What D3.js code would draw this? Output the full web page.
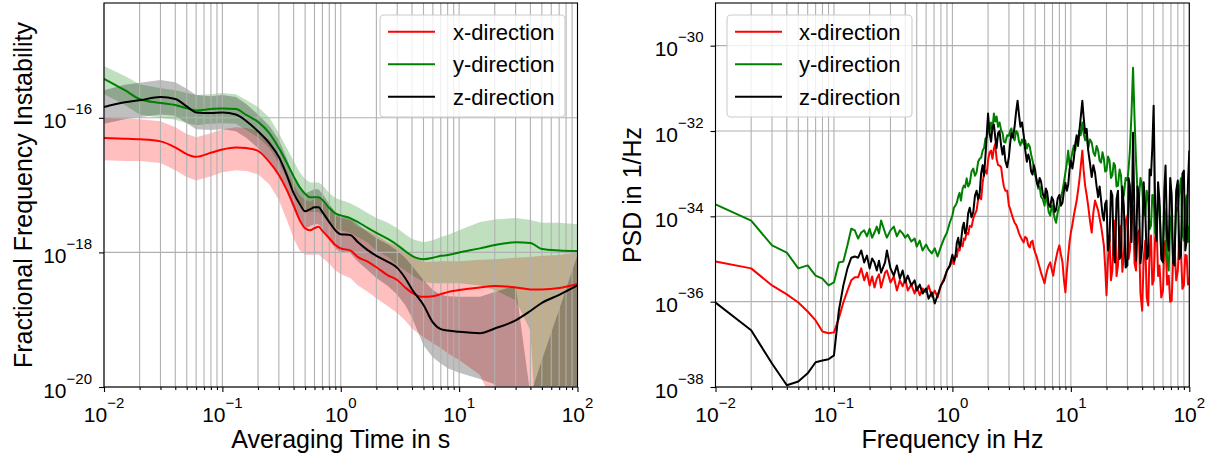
<!DOCTYPE html>
<html>
<head>
<meta charset="utf-8">
<script src="https://cdn.jsdelivr.net/npm/d3@7"></script>
<style>
  body { margin: 0; background: #fff; }
  text { font-family: "Liberation Sans", Arial, sans-serif; fill: #000; }
</style>
</head>
<body>
<script>
// ---- left panel: instability vs averaging time (values are log10) ----
var tau = [0.01,0.015,0.02,0.03,0.04,0.05,0.06,0.08,0.1,0.13,0.16,0.2,0.25,0.3,0.35,0.4,0.45,0.5,0.55,0.6,
  0.65,0.7,0.8,0.9,1,1.2,1.4,1.7,2,2.5,3,3.5,4,5,6,7,8,10,15,20,30,40,50,70,100];

var adevX = [-16.30,-16.31,-16.32,-16.35,-16.44,-16.54,-16.58,-16.52,-16.47,-16.44,
  -16.45,-16.49,-16.66,-16.85,-17.07,-17.30,-17.52,-17.64,-17.67,-17.64,
  -17.62,-17.68,-17.79,-17.89,-17.94,-17.97,-18.07,-18.14,-18.22,-18.34,
  -18.41,-18.52,-18.60,-18.66,-18.65,-18.62,-18.59,-18.56,-18.52,-18.50,
  -18.52,-18.55,-18.55,-18.53,-18.47];
var adevXUp = [-16.00,-16.01,-16.02,-16.05,-16.14,-16.24,-16.29,-16.23,-16.17,-16.14,
  -16.15,-16.20,-16.33,-16.54,-16.78,-16.99,-17.15,-17.22,-17.24,-17.21,
  -17.19,-17.25,-17.36,-17.45,-17.49,-17.52,-17.62,-17.68,-17.74,-17.85,
  -17.91,-18.00,-18.05,-18.14,-18.14,-18.13,-18.13,-18.13,-18.11,-18.10,
  -18.08,-18.07,-18.05,-18.04,-18.00];
var adevXLow = [-16.63,-16.64,-16.64,-16.67,-16.78,-16.88,-16.93,-16.87,-16.81,-16.78,
  -16.79,-16.84,-16.99,-17.22,-17.52,-17.79,-17.97,-18.03,-18.04,-18.03,
  -18.03,-18.08,-18.17,-18.27,-18.32,-18.38,-18.49,-18.59,-18.68,-18.80,
  -18.90,-19.01,-19.13,-19.26,-19.35,-19.42,-19.50,-19.60,-19.82,-20.3,
  -22,-22,-22,-22,-22];

var adevY = [-15.42,-15.59,-15.72,-15.78,-15.81,-15.86,-15.89,-15.87,-15.86,-15.87,
  -15.96,-16.06,-16.23,-16.45,-16.67,-16.87,-17.03,-17.13,-17.18,-17.18,
  -17.18,-17.22,-17.34,-17.42,-17.45,-17.49,-17.55,-17.64,-17.71,-17.80,
  -17.89,-17.98,-18.05,-18.10,-18.08,-18.05,-18.04,-18.00,-17.94,-17.89,
  -17.85,-17.86,-17.95,-17.97,-17.98];
var adevYUp = [-15.23,-15.38,-15.50,-15.56,-15.59,-15.63,-15.66,-15.65,-15.63,-15.65,
  -15.74,-15.84,-16.00,-16.23,-16.45,-16.64,-16.81,-16.91,-16.96,-16.96,
  -16.96,-17.00,-17.12,-17.19,-17.22,-17.27,-17.33,-17.42,-17.49,-17.56,
  -17.64,-17.73,-17.80,-17.85,-17.82,-17.77,-17.74,-17.67,-17.55,-17.51,
  -17.49,-17.52,-17.56,-17.56,-17.58];
var adevYLow = [-15.65,-15.81,-15.95,-16.00,-16.03,-16.08,-16.11,-16.09,-16.08,-16.09,
  -16.18,-16.29,-16.45,-16.67,-16.90,-17.09,-17.25,-17.36,-17.40,-17.40,
  -17.40,-17.45,-17.56,-17.64,-17.67,-17.71,-17.77,-17.86,-17.97,-18.07,
  -18.19,-18.27,-18.34,-18.44,-18.46,-18.46,-18.46,-18.46,-18.49,-18.56,
  -18.71,-19.16,-22,-22,-22];

var adevZ = [-15.84,-15.77,-15.74,-15.69,-15.72,-15.83,-15.92,-15.93,-15.92,-15.95,
  -16.05,-16.20,-16.38,-16.58,-16.85,-17.12,-17.28,-17.39,-17.36,-17.33,
  -17.33,-17.40,-17.55,-17.67,-17.73,-17.74,-17.85,-17.97,-18.05,-18.14,
  -18.23,-18.38,-18.55,-18.78,-19.04,-19.14,-19.16,-19.18,-19.20,-19.13,
  -19.01,-18.87,-18.75,-18.63,-18.49];
var adevZUp = [-15.59,-15.51,-15.48,-15.44,-15.47,-15.57,-15.66,-15.68,-15.66,-15.69,
  -15.80,-15.95,-16.12,-16.33,-16.60,-16.87,-17.03,-17.12,-17.09,-17.06,
  -17.06,-17.13,-17.28,-17.40,-17.46,-17.48,-17.58,-17.70,-17.79,-17.88,
  -17.97,-18.08,-18.20,-18.41,-18.56,-18.63,-18.65,-18.66,-18.66,-18.59,
  -18.49,-20.12,-19.60,-18.85,-18.04];
var adevZLow = [-16.09,-16.02,-15.99,-15.95,-15.97,-16.08,-16.17,-16.18,-16.17,-16.20,
  -16.30,-16.45,-16.63,-16.84,-17.10,-17.37,-17.53,-17.64,-17.61,-17.58,
  -17.58,-17.65,-17.82,-17.94,-18.00,-18.01,-18.14,-18.27,-18.38,-18.50,
  -18.63,-18.78,-18.97,-19.38,-19.56,-19.65,-19.72,-19.79,-19.88,-19.96,
  -20.5,-22,-22,-22,-22];

// ---- right panel: PSD vs frequency (values are log10) ----
var freq = [0.01,0.02,0.03,0.04,0.05,0.06,0.07,0.08,0.09,0.1,
  0.11,0.12,0.13,0.14,0.15,0.16,0.17,0.18,0.19,0.2,
  0.21,0.22,0.23,0.24,0.25,0.27,0.28,0.3,0.32,0.34,
  0.36,0.38,0.4,0.42,0.45,0.48,0.5,0.53,0.56,0.6,
  0.63,0.67,0.71,0.75,0.8,0.85,0.9,0.95,
  1.0,1.03,1.06,1.09,1.12,1.15,1.18,1.22,1.25,1.28,
  1.32,1.36,1.4,1.45,1.5,1.55,1.6,1.65,1.7,1.75,
  1.8,1.85,1.9,1.95,2.0,2.06,2.12,2.18,2.24,2.3,
  2.36,2.43,2.5,2.58,2.65,2.72,2.8,2.9,3.0,3.07,
  3.15,3.25,3.35,3.45,3.55,3.65,3.75,3.87,4.0,4.12,
  4.25,4.37,4.5,4.62,4.75,4.87,5.0,5.15,5.3,5.45,
  5.6,5.8,6.0,6.15,6.3,6.5,6.7,6.9,7.1,7.3,
  7.5,7.75,8.0,8.25,8.5,8.75,9.0,9.25,9.5,9.75,
  10,10.3,10.6,10.9,11.2,11.5,11.8,12.1,12.5,12.8,
  13.2,13.6,14,14.5,15,15.5,16,16.5,17,17.5,
  18,18.5,19,19.5,20,20.6,21.2,21.8,22.4,23,
  23.6,24.3,25,25.8,26.5,27.2,28,29,30,30.7,
  31.5,32.5,33.5,34.5,35.5,36.5,37.5,38.7,40,41.2,
  42.5,43.7,45,46.2,47.5,48.7,50,51.5,53,54.5,
  56,58,60,61.5,63,65,67,69,71,73,
  75,77.5,80,82.5,85,87.5,90,92.5,95,97.5,
  100];

var psdX = [-35.06,-35.22,-35.62,-35.83,-36.02,-36.23,-36.44,-36.70,-36.74,-36.72,
  -36.39,-36.02,-35.74,-35.50,-35.43,-35.43,-35.22,-35.50,-35.32,-35.62,
  -35.41,-35.67,-35.46,-35.36,-35.67,-35.32,-35.27,-35.55,-35.41,-35.74,
  -35.50,-35.64,-35.46,-35.74,-35.60,-35.81,-35.64,-35.85,-35.69,-35.78,
  -35.62,-35.88,-35.74,-35.90,-35.62,-35.46,-35.27,-35.18,
  -35.04,-35.12,-34.92,-34.95,-34.75,-34.80,-34.64,-34.70,-34.52,-34.55,
  -34.38,-34.42,-34.22,-34.25,-34.05,-33.95,-33.86,-33.60,-33.51,-33.60,
  -33.21,-33.00,-32.93,-33.00,-32.69,-32.50,-32.46,-32.65,-32.41,-32.30,
  -32.65,-32.80,-32.81,-32.85,-33.11,-33.30,-33.40,-33.40,-33.75,-33.82,
  -33.93,-34.05,-34.15,-34.20,-34.29,-34.40,-34.47,-34.55,-34.61,-34.48,
  -34.52,-34.68,-34.73,-34.60,-34.57,-34.75,-34.85,-34.95,-35.08,-35.20,
  -35.32,-35.45,-35.57,-35.40,-35.27,-35.15,-35.08,-35.25,-35.39,-35.15,
  -34.99,-34.80,-34.68,-34.90,-35.08,-35.50,-35.78,-35.30,-34.92,-34.60,
  -34.38,-34.20,-33.98,-33.80,-33.63,-33.40,-33.16,-32.85,-32.46,-32.90,
  -33.28,-33.50,-33.75,-34.10,-34.38,-33.90,-33.63,-33.75,-33.86,-34.05,
  -34.22,-34.45,-34.68,-35.20,-35.85,-35.00,-34.45,-35.50,-35.27,-34.50,
  -34.10,-35.40,-35.15,-34.30,-34.22,-35.30,-34.92,-34.10,-33.98,-35.00,
  -34.80,-34.00,-33.75,-35.10,-35.27,-34.40,-34.33,-35.80,-36.21,-35.00,
  -34.57,-35.90,-36.09,-34.80,-34.45,-35.60,-35.50,-34.50,-34.22,-35.40,
  -35.15,-35.90,-35.74,-34.70,-34.57,-35.60,-35.39,-36.00,-35.97,-35.00,
  -34.68,-35.50,-35.27,-34.60,-34.80,-35.70,-35.62,-34.90,-34.92,-35.60,
  -35.43];

var psdY = [-33.72,-34.10,-34.68,-34.85,-35.22,-35.15,-35.39,-35.46,-35.62,-35.55,
  -35.08,-35.06,-34.68,-34.29,-34.33,-34.52,-34.38,-34.33,-34.47,-34.29,
  -34.50,-34.38,-34.24,-34.40,-34.10,-34.38,-34.50,-34.33,-34.24,-34.47,
  -34.33,-34.40,-34.50,-34.43,-34.59,-34.52,-34.71,-34.57,-34.80,-34.66,
  -34.78,-34.87,-34.75,-34.94,-34.71,-34.52,-34.38,-34.15,
  -33.98,-33.80,-33.75,-33.68,-33.54,-33.45,-33.63,-33.35,-33.28,-33.32,
  -33.11,-33.30,-33.23,-32.95,-32.88,-33.05,-32.97,-32.72,-32.65,-32.62,
  -32.46,-32.40,-32.18,-32.15,-31.99,-32.00,-31.80,-31.95,-31.59,-31.78,
  -31.66,-31.90,-31.80,-31.98,-32.04,-32.25,-32.27,-32.10,-32.11,-32.00,
  -31.94,-32.15,-32.22,-32.00,-32.04,-32.25,-32.34,-32.20,-32.30,-32.22,
  -32.41,-32.30,-32.37,-32.55,-32.69,-32.85,-33.04,-33.15,-33.35,-33.30,
  -33.54,-33.60,-33.75,-33.50,-33.63,-33.90,-33.98,-33.75,-33.86,-34.05,
  -34.15,-33.90,-33.75,-33.55,-33.40,-33.20,-32.97,-32.75,-32.46,-32.80,
  -32.69,-32.50,-32.34,-32.45,-32.18,-32.25,-31.99,-32.10,-31.80,-32.05,
  -32.22,-32.05,-32.41,-32.20,-32.27,-32.50,-32.58,-32.35,-32.46,-32.70,
  -32.74,-32.50,-32.65,-32.95,-32.93,-32.60,-32.69,-33.10,-33.04,-32.75,
  -32.81,-33.30,-33.28,-32.90,-33.04,-33.60,-33.51,-33.10,-33.16,-32.90,
  -32.46,-31.60,-30.52,-31.70,-32.69,-33.40,-33.63,-33.10,-33.28,-33.90,
  -33.98,-33.40,-33.63,-34.30,-34.22,-33.50,-33.51,-34.40,-34.33,-33.60,
  -33.75,-34.90,-34.68,-33.80,-33.98,-35.00,-35.27,-34.00,-34.22,-35.00,
  -34.80,-33.80,-33.86,-33.40,-33.11,-34.40,-34.57,-33.70,-33.51,-34.60,
  -34.22];

var psdZ = [-36.02,-36.67,-37.45,-37.96,-37.87,-37.68,-37.42,-37.38,-37.35,-37.26,
  -36.21,-35.62,-35.22,-34.97,-34.94,-34.97,-34.80,-35.08,-34.92,-35.22,
  -34.99,-35.08,-35.27,-35.04,-35.32,-35.08,-34.80,-35.22,-35.39,-35.15,
  -35.46,-35.27,-35.55,-35.39,-35.62,-35.50,-35.74,-35.60,-35.81,-35.69,
  -35.93,-35.78,-36.04,-35.85,-35.62,-35.50,-35.27,-35.15,
  -34.90,-35.05,-34.95,-34.62,-34.50,-34.72,-34.60,-34.25,-34.15,-34.40,
  -34.30,-33.92,-33.80,-34.02,-33.90,-33.52,-33.40,-33.60,-33.45,-32.98,
  -32.80,-33.05,-32.60,-32.10,-31.59,-32.05,-32.25,-31.90,-31.85,-32.15,
  -32.40,-32.05,-32.00,-32.35,-32.55,-32.35,-32.70,-32.85,-32.60,-32.30,
  -32.05,-32.15,-31.90,-31.55,-31.29,-31.62,-31.90,-31.80,-32.10,-32.45,
  -32.72,-32.55,-32.68,-32.95,-33.02,-32.80,-32.92,-33.20,-33.30,-33.10,
  -33.18,-33.48,-33.58,-33.35,-33.42,-33.72,-33.78,-33.55,-33.62,-33.90,
  -33.85,-33.58,-33.50,-33.75,-33.68,-33.40,-33.22,-33.40,-33.26,-32.90,
  -32.70,-32.88,-32.65,-32.30,-32.10,-32.35,-32.00,-31.70,-31.29,-31.65,
  -32.05,-31.95,-32.45,-32.75,-33.08,-32.80,-32.98,-33.30,-33.55,-33.30,
  -33.62,-33.95,-34.10,-33.70,-33.63,-34.80,-34.57,-33.40,-33.51,-34.90,
  -35.08,-33.60,-33.40,-35.00,-34.92,-33.30,-33.75,-35.20,-35.15,-33.10,
  -33.28,-34.60,-32.04,-34.20,-35.04,-33.30,-33.51,-35.10,-34.68,-33.20,
  -33.86,-35.00,-34.92,-32.90,-33.04,-32.40,-31.41,-33.80,-34.57,-33.20,
  -33.63,-35.00,-35.08,-33.40,-32.81,-34.50,-34.80,-33.10,-33.51,-35.10,
  -35.15,-33.40,-33.16,-35.00,-34.92,-33.00,-32.93,-34.80,-34.57,-33.20,
  -32.46];

var seriesNames = ["x-direction", "y-direction", "z-direction"];
var seriesColors = ["#ff0000", "#008000", "#000000"];

var svg = d3.select("body").append("svg")
    .attr("width", 1219)
    .attr("height", 461);

function makePanel(id, box, yDomain, yTicks) {
  var x = d3.scaleLog().domain([0.01, 100]).range([box.left, box.right]);
  var y = d3.scaleLog().domain(yDomain).range([box.bottom, box.top]);
  svg.append("clipPath").attr("id", id)
    .append("rect")
      .attr("x", box.left).attr("y", box.top)
      .attr("width", box.right - box.left)
      .attr("height", box.bottom - box.top);
  return {x: x, y: y, box: box, yTicks: yTicks, clip: "url(#" + id + ")"};
}

function isDecade(v) {
  var l = Math.log10(v);
  return Math.abs(l - Math.round(l)) < 1e-6;
}

function drawGrid(p) {
  var g = svg.append("g");
  g.selectAll(".vgrid")
    .data(p.x.ticks()).enter()
    .append("line")
      .attr("x1", function(d) { return p.x(d); })
      .attr("x2", function(d) { return p.x(d); })
      .attr("y1", p.box.top)
      .attr("y2", p.box.bottom)
      .style("stroke", "#b0b0b0")
      .style("stroke-width", 1.1);
  g.selectAll(".hgrid")
    .data(p.yTicks).enter()
    .append("line")
      .attr("x1", p.box.left)
      .attr("x2", p.box.right)
      .attr("y1", function(d) { return p.y(d); })
      .attr("y2", function(d) { return p.y(d); })
      .style("stroke", "#b0b0b0")
      .style("stroke-width", 1.1);
}

function powLabel(x, y, exp, anchor) {
  var t = svg.append("text")
    .attr("x", x)
    .attr("y", y)
    .attr("text-anchor", anchor)
    .style("font-size", "21px");
  t.append("tspan").text("10");
  t.append("tspan")
    .attr("dy", -14)
    .style("font-size", "15px")
    .text(exp < 0 ? "\u2212" + (-exp) : String(exp));
}

function drawAxes(p, xTitle, yTitle, yTitleX) {
  var majors = p.x.ticks().filter(isDecade);
  var minors = p.x.ticks().filter(function(d) { return !isDecade(d); });

  var bottom = svg.append("g").attr("transform", "translate(0," + p.box.bottom + ")");
  bottom.append("g").call(d3.axisBottom(p.x).tickValues(majors).tickSize(5).tickFormat(""));
  bottom.append("g").call(d3.axisBottom(p.x).tickValues(minors).tickSize(3).tickFormat(""));
  bottom.selectAll(".domain").remove();
  bottom.selectAll("line").style("stroke-width", 1.1);

  var left = svg.append("g").attr("transform", "translate(" + p.box.left + ",0)");
  left.call(d3.axisLeft(p.y).tickValues(p.yTicks).tickSize(5).tickFormat(""));
  left.selectAll(".domain").remove();
  left.selectAll("line").style("stroke-width", 1.1);

  majors.forEach(function(d) {
    powLabel(p.x(d), p.box.bottom + 35, Math.round(Math.log10(d)), "middle");
  });
  p.yTicks.forEach(function(d) {
    powLabel(p.box.left - 12, p.y(d) + 10.5, Math.round(Math.log10(d)), "end");
  });

  svg.append("rect")
    .attr("x", p.box.left)
    .attr("y", p.box.top)
    .attr("width", p.box.right - p.box.left)
    .attr("height", p.box.bottom - p.box.top)
    .style("fill", "none")
    .style("stroke", "#000")
    .style("stroke-width", 1.1);

  svg.append("text")
    .attr("x", (p.box.left + p.box.right) / 2)
    .attr("y", 447.5)
    .attr("text-anchor", "middle")
    .style("font-size", "25px")
    .text(xTitle);

  svg.append("text")
    .attr("transform", "translate(" + yTitleX + "," + ((p.box.top + p.box.bottom) / 2) + ") rotate(-90)")
    .attr("text-anchor", "middle")
    .style("font-size", "25px")
    .text(yTitle);
}

function drawLegend(bx, by, lx1, lx2, tx) {
  var g = svg.append("g");
  g.append("rect")
    .attr("x", bx).attr("y", by)
    .attr("width", 185).attr("height", 102)
    .attr("rx", 4)
    .style("fill", "#fff")
    .style("fill-opacity", 0.8)
    .style("stroke", "#cccccc")
    .style("stroke-width", 1.1);
  seriesNames.forEach(function(name, i) {
    var yy = by + 16.7 + i * 32.5;
    g.append("line")
      .attr("x1", lx1).attr("x2", lx2)
      .attr("y1", yy).attr("y2", yy)
      .style("stroke", seriesColors[i])
      .style("stroke-width", 2);
    g.append("text")
      .attr("x", tx)
      .attr("y", yy + 7.8)
      .style("font-size", "22px")
      .text(name);
  });
}

function pairs(xs, logs) {
  return xs.map(function(v, i) { return [v, Math.pow(10, logs[i])]; });
}

// ---------- left panel ----------
var pl = makePanel("clipL", {left: 104, right: 577.5, top: 3, bottom: 387},
  [1e-20, Math.pow(10, -14.294)], [1e-20, 1e-18, 1e-16]);

var lines = [adevX, adevY, adevZ];
var ups = [adevXUp, adevYUp, adevZUp];
var lows = [adevXLow, adevYLow, adevZLow];

var band = d3.area()
  .x(function(d) { return pl.x(d.t); })
  .y0(function(d) { return pl.y(d.lo); })
  .y1(function(d) { return pl.y(d.hi); });

var bandG = svg.append("g").attr("clip-path", pl.clip);
lines.forEach(function(s, k) {
  var rows = tau.map(function(t, i) {
    return {t: t, lo: Math.pow(10, lows[k][i]), hi: Math.pow(10, ups[k][i])};
  });
  bandG.append("path")
    .attr("d", band(rows))
    .style("fill", seriesColors[k])
    .style("fill-opacity", 0.25)
    .style("stroke", "none");
});

drawGrid(pl);

var lineL = d3.line()
  .x(function(d) { return pl.x(d[0]); })
  .y(function(d) { return pl.y(d[1]); })
  .curve(d3.curveMonotoneX);

var lineG = svg.append("g").attr("clip-path", pl.clip);
lines.forEach(function(s, k) {
  lineG.append("path")
    .attr("d", lineL(pairs(tau, s)))
    .style("fill", "none")
    .style("stroke", seriesColors[k])
    .style("stroke-width", 2);
});

drawAxes(pl, "Averaging Time in s", "Fractional Frequency Instability", 32);
drawLegend(380, 15, 388, 435, 453);

// ---------- right panel ----------
var pr = makePanel("clipR", {left: 715.5, right: 1189.3, top: 3, bottom: 387},
  [1e-38, 1e-29], [1e-38, 1e-36, 1e-34, 1e-32, 1e-30]);

drawGrid(pr);

var lineR = d3.line()
  .x(function(d) { return pr.x(d[0]); })
  .y(function(d) { return pr.y(d[1]); });

var psdG = svg.append("g").attr("clip-path", pr.clip);
[psdX, psdY, psdZ].forEach(function(s, k) {
  psdG.append("path")
    .attr("d", lineR(pairs(freq, s)))
    .style("fill", "none")
    .style("stroke", seriesColors[k])
    .style("stroke-width", 2)
    .style("stroke-linejoin", "round");
});

drawAxes(pr, "Frequency in Hz", "PSD in 1/Hz", 641);
drawLegend(727, 15, 735, 782, 799);
</script>
</body>
</html>
